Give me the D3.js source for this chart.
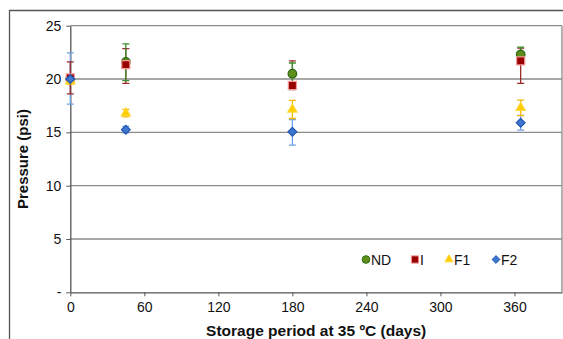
<!DOCTYPE html>
<html>
<head>
<meta charset="utf-8">
<script src="https://cdn.jsdelivr.net/npm/d3@7"></script>
<style>
  body { margin: 0; background: #fff; }
  svg { display: block; font-family: "Liberation Sans", Arial, sans-serif; }
</style>
</head>
<body>
<svg id="chart" width="563" height="339"></svg>
<script>
// storage days for every series
const days = [0, 45, 180, 365];

const ndValues = [20.0, 21.6, 20.5, 22.3];
const ndErrPlus = [0.3, 1.7, 1.0, 0.7];
const ndErrMinus = [0.3, 1.75, 1.0, 0.7];
const iValues = [20.1, 21.35, 19.4, 21.7];
const iErrPlus = [1.5, 1.5, 2.3, 1.2];
const iErrMinus = [1.5, 1.75, 0.4, 2.1];
const f1Values = [19.8, 16.8, 17.15, 17.3];
const f1ErrPlus = [0.3, 0.35, 0.85, 0.73];
const f1ErrMinus = [0.3, 0.35, 0.85, 0.73];
const f2Values = [20.0, 15.25, 15.05, 15.9];
const f2ErrPlus = [2.45, 0.3, 1.15, 0.7];
const f2ErrMinus = [2.35, 0.3, 1.25, 0.7];

const xTicks = [0, 60, 120, 180, 240, 300, 360];
const yTicks = [0, 5, 10, 15, 20, 25];

const seriesNames = ["ND", "I", "F1", "F2"];

const diamond = {
  draw(ctx, size) {
    const r = Math.sqrt(size / 2);
    ctx.moveTo(0, -r);
    ctx.lineTo(r, 0);
    ctx.lineTo(0, r);
    ctx.lineTo(-r, 0);
    ctx.closePath();
  }
};

let series = [
  { values: ndValues, plus: ndErrPlus, minus: ndErrMinus, shape: d3.symbolCircle, size: 58,
    fill: "#5e8f1c", stroke: "#2f6a12", bar: "#3d8f2c" },
  { values: iValues, plus: iErrPlus, minus: iErrMinus, shape: d3.symbolSquare, size: 66,
    fill: "#990000", stroke: "#f29a9a", bar: "#9b2b2b" },
  { values: f1Values, plus: f1ErrPlus, minus: f1ErrMinus, shape: d3.symbolTriangle, size: 36,
    fill: "#ffcc00", stroke: "#ffd633", bar: "#f5b800" },
  { values: f2Values, plus: f2ErrPlus, minus: f2ErrMinus, shape: diamond, size: 38,
    fill: "#3f76d0", stroke: "#1f56b0", bar: "#6f9fe3" }
];

const svg = d3.select("#chart");

const plotLeft = 70.3, plotRight = 562, plotTop = 25.7, plotBottom = 292.3;

const x = d3.scaleLinear().domain([0, 398.5]).range([plotLeft, plotRight]);
const y = d3.scaleLinear().domain([0, 25]).range([plotBottom, plotTop]);

// outer frame of the figure
svg.append("path")
  .attr("d", `M9.5,339 V10.5 H563`)
  .attr("fill", "none")
  .attr("stroke", "#555")
  .attr("stroke-width", 1.3);

// gridlines
svg.append("g")
  .selectAll("line")
  .data(yTicks.filter((t) => t > 0))
  .enter()
  .append("line")
  .attr("x1", plotLeft)
  .attr("x2", plotRight)
  .attr("y1", (d) => y(d))
  .attr("y2", (d) => y(d))
  .attr("stroke", "#8a8a8a")
  .attr("stroke-width", 1.3);

// right border of plot area
svg.append("line")
  .attr("x1", plotRight).attr("x2", plotRight)
  .attr("y1", plotTop).attr("y2", plotBottom)
  .attr("stroke", "#8a8a8a")
  .attr("stroke-width", 1.3);

let xAxis = d3.axisBottom(x).tickValues(xTicks).tickSize(4).tickPadding(6).tickSizeOuter(0);
let yAxis = d3.axisLeft(y).tickValues(yTicks).tickSize(4).tickPadding(5).tickSizeOuter(0)
  .tickFormat((d) => (d === 0 ? "-" : d));

let gx = svg.append("g").attr("transform", `translate(0,${plotBottom})`).call(xAxis);
let gy = svg.append("g").attr("transform", `translate(${plotLeft},0)`).call(yAxis);

[gx, gy].forEach((g) => {
  g.select(".domain").attr("stroke", "#555").attr("stroke-width", 1.3);
  g.selectAll(".tick line").attr("stroke", "#555");
  g.selectAll(".tick text").attr("fill", "#111").style("font-size", "14px");
});

// error bars, last series first so ND ends up on top
const cap = 3.5;
series.slice().reverse().forEach((s) => {
  let g = svg.append("g");
  days.forEach((day, i) => {
    let cx = x(day);
    let hi = y(s.values[i] + s.plus[i]);
    let lo = y(s.values[i] - s.minus[i]);
    g.append("path")
      .attr("d", `M${cx},${hi} V${lo} M${cx - cap},${hi} H${cx + cap} M${cx - cap},${lo} H${cx + cap}`)
      .attr("fill", "none")
      .attr("stroke", s.bar)
      .attr("stroke-width", 1.3);
  });
});

// markers
series.forEach((s) => {
  svg.append("g")
    .selectAll("path")
    .data(days)
    .enter()
    .append("path")
    .attr("transform", (d, i) => `translate(${x(d)},${y(s.values[i])})`)
    .attr("d", d3.symbol().type(s.shape).size(s.size))
    .attr("fill", s.fill)
    .attr("stroke", s.stroke)
    .attr("stroke-width", 1.2);
});

// legend
const legendX = [366, 415, 449, 496];
let legend = svg.append("g");
series.forEach((s, i) => {
  legend.append("path")
    .attr("transform", `translate(${legendX[i]},259.5)`)
    .attr("d", d3.symbol().type(s.shape).size(s.size * 0.8))
    .attr("fill", s.fill)
    .attr("stroke", s.stroke)
    .attr("stroke-width", 1);
  legend.append("text")
    .attr("x", legendX[i] + 5)
    .attr("y", 264.5)
    .style("font-size", "14px")
    .attr("fill", "#111")
    .text(seriesNames[i]);
});

// axis titles
svg.append("text")
  .attr("transform", `translate(28,${(plotTop + plotBottom) / 2}) rotate(-90)`)
  .attr("text-anchor", "middle")
  .style("font-size", "15px")
  .style("font-weight", "bold")
  .attr("fill", "#111")
  .text("Pressure (psi)");

svg.append("text")
  .attr("x", (plotLeft + plotRight) / 2)
  .attr("y", 335.5)
  .attr("text-anchor", "middle")
  .style("font-size", "15.5px")
  .style("font-weight", "bold")
  .attr("fill", "#111")
  .text("Storage period at 35 ºC (days)");
</script>
</body>
</html>
